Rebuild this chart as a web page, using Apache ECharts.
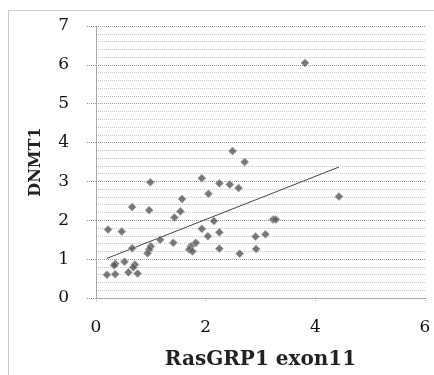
<!DOCTYPE html>
<html>
<head>
<meta charset="utf-8">
<script src="https://cdn.jsdelivr.net/npm/echarts@6/dist/echarts.min.js"></script>
<style>
  html, body { margin: 0; padding: 0; background: #fff; }
  #chart { width: 434px; height: 375px; }
</style>
</head>
<body>
<div id="chart"></div>
<script>
// ---- data ----
var xName = "RasGRP1 exon11";
var yName = "DNMT1";

// [RasGRP1 exon11, DNMT1]
var points = [
  [3.81, 6.05], [2.49, 3.78], [2.71, 3.50], [4.43, 2.61],
  [0.99, 2.98], [1.93, 3.08], [2.25, 2.95], [2.44, 2.92],
  [2.60, 2.83], [2.05, 2.68], [1.57, 2.55], [0.66, 2.34],
  [0.97, 2.26], [1.54, 2.23], [1.43, 2.07], [2.15, 1.98],
  [3.23, 2.02], [3.28, 2.02], [0.22, 1.76], [0.47, 1.71],
  [1.93, 1.78], [2.25, 1.69], [2.04, 1.59], [3.09, 1.64],
  [2.91, 1.58], [1.17, 1.50], [1.41, 1.42], [1.82, 1.42],
  [1.73, 1.33], [1.70, 1.25], [1.76, 1.20], [1.00, 1.33],
  [0.97, 1.25], [0.94, 1.15], [0.66, 1.28], [2.25, 1.27],
  [2.62, 1.14], [2.92, 1.26], [0.35, 0.88], [0.52, 0.93],
  [0.71, 0.86], [0.68, 0.79], [0.59, 0.66], [0.76, 0.63],
  [0.20, 0.60], [0.35, 0.61], [0.33, 0.84]
];

// linear trend line ends
var trendX = [0.20, 4.43];
var trendY = [1.02, 3.37];

var chart = echarts.init(document.getElementById("chart"));

var serif = "DejaVu Serif";

chart.setOption({
  animation: false,
  backgroundColor: "#fff",
  grid: { left: 96, right: 9, top: 26, bottom: 72 },
  graphic: [{
    type: "rect",
    shape: { x: 8.5, y: 10.5, width: 600, height: 600 },
    style: { fill: "none", stroke: "#999", lineWidth: 1, lineDash: [1, 1] },
    silent: true
  }],
  xAxis: {
    type: "value",
    min: 0, max: 6, interval: 2,
    name: xName,
    nameLocation: "middle",
    nameGap: 52,
    nameTextStyle: { fontFamily: serif, fontSize: 20, fontWeight: "bold", color: "#222" },
    axisLine: { show: true, lineStyle: { color: "#999", type: "dotted" } },
    axisTick: { show: true, length: 4, lineStyle: { color: "#999", type: "dotted" } },
    axisLabel: { fontFamily: serif, fontSize: 17, color: "#111", margin: 21 },
    splitLine: { show: false }
  },
  yAxis: {
    type: "value",
    min: 0, max: 7, interval: 1,
    name: yName,
    nameLocation: "middle",
    nameGap: 52,
    nameRotate: 90,
    nameTextStyle: { fontFamily: serif, fontSize: 16, fontWeight: "bold", color: "#222" },
    axisLine: { show: true, lineStyle: { color: "#999", type: "dotted" } },
    axisTick: { show: true, length: 9, lineStyle: { color: "#999", type: "dotted" } },
    axisLabel: { fontFamily: serif, fontSize: 17, color: "#111", margin: 27 },
    splitLine: { show: true, lineStyle: { color: "#999", type: "dotted", width: 1 } },
    minorTick: { show: false, splitNumber: 5 },
    minorSplitLine: { show: true, lineStyle: { color: "#c4c4c4", type: "dotted", width: 1 } }
  },
  series: [{
    type: "scatter",
    data: points,
    symbol: "diamond",
    symbolSize: 8,
    itemStyle: { color: "#555", borderColor: "#aaa", borderWidth: 1 },
    z: 3
  }, {
    type: "line",
    data: [[trendX[0], trendY[0]], [trendX[1], trendY[1]]],
    symbol: "none",
    lineStyle: { color: "#444", width: 1 },
    z: 2
  }]
});
</script>
</body>
</html>
